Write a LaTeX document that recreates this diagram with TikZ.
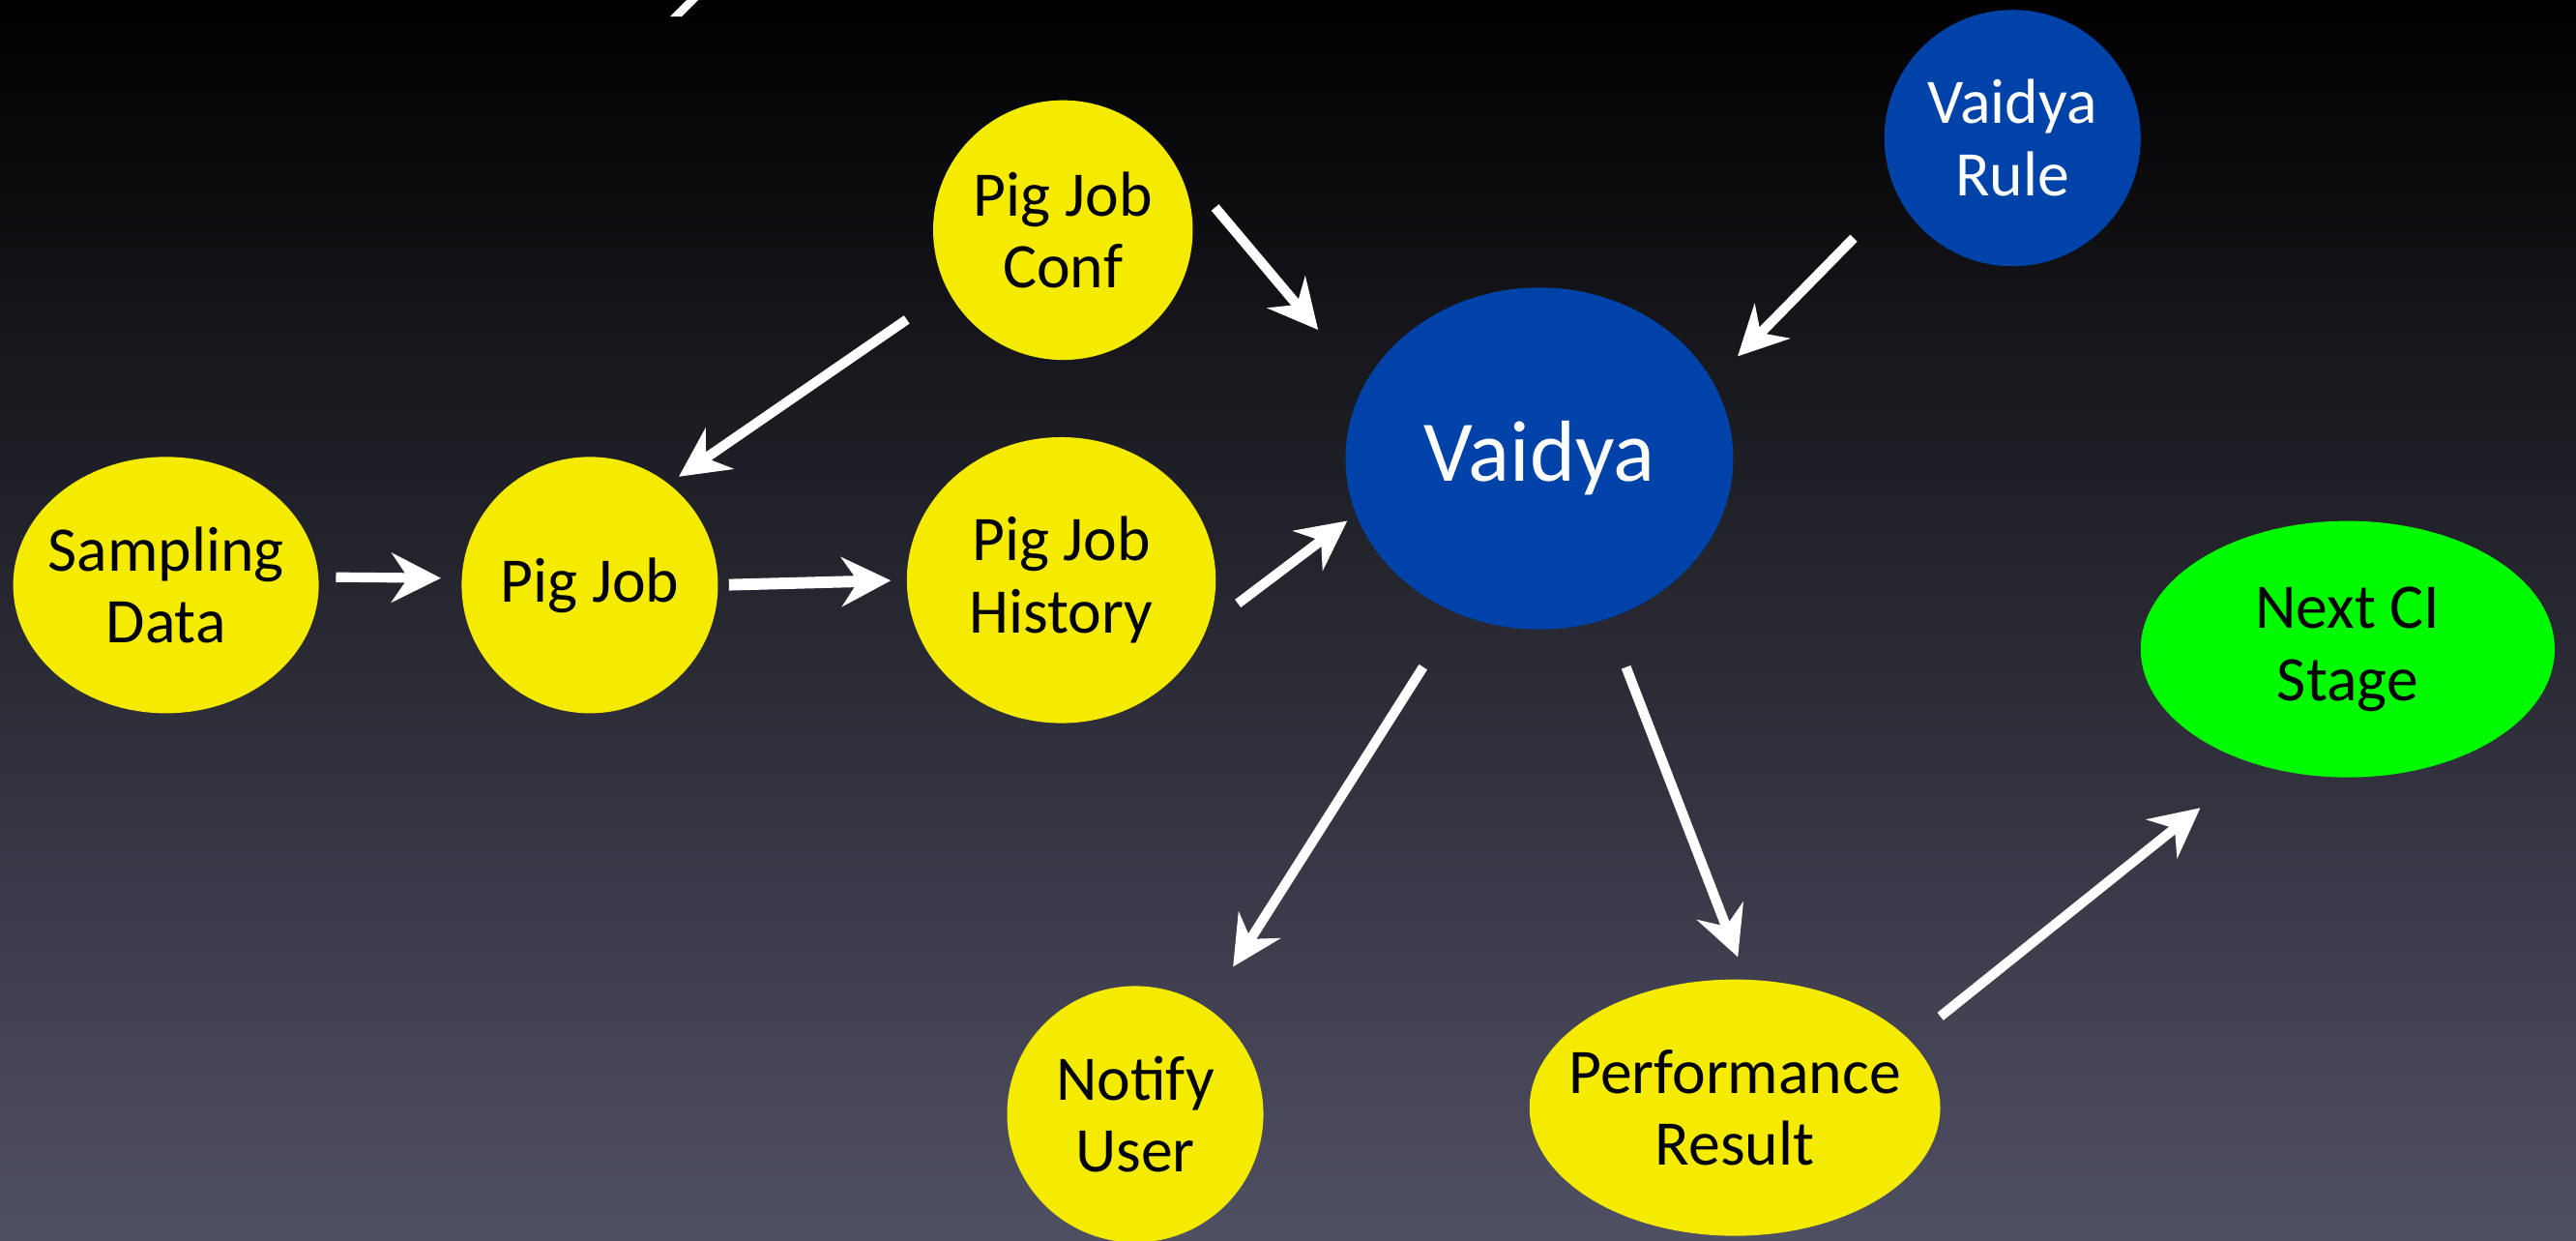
\documentclass[tikz,border=0pt]{standalone}
\usepackage{fontspec}
\setmainfont{Carlito}
\usetikzlibrary{shapes.geometric,arrows.meta}
\definecolor{pigyellow}{RGB}{245,235,0}
\definecolor{vaiblue}{RGB}{0,67,168}
\definecolor{cigreen}{RGB}{0,250,0}
\definecolor{bgmiddle}{RGB}{24,25,48}
\definecolor{bgbottom}{RGB}{80,80,100}

\begin{document}
\begin{tikzpicture}[
  bub/.style={ellipse,inner sep=-3mm,align=center,font=\fontsize{11}{12.5}\selectfont},
  yel/.style={bub,fill=pigyellow,text=black},
  blu/.style={bub,fill=vaiblue,text=white},
  arr/.style={white,line width=1.7pt,-{Stealth[length=3mm,width=3mm,inset=1mm]}}]
\shade[top color=black,middle color=bgmiddle,bottom color=bgbottom] (0,0) rectangle (15.68,-7.55);
\useasboundingbox (0,0) rectangle (15.68,-7.55);
% tail of the slide title
\fill[white] (4.08,-0.10) -- (4.15,-0.10) -- (4.25,0) -- (4.18,0) -- cycle;

\node[yel,minimum width=1.86cm,minimum height=1.56cm] (samp) at (1.01,-3.56) {Sampling\\Data};
\node[yel,minimum width=1.56cm,minimum height=1.56cm] (pig) at (3.59,-3.56) {Pig Job};
\node[yel,minimum width=1.88cm,minimum height=1.74cm] (hist) at (6.46,-3.53) {Pig Job\\History};
\node[yel,minimum width=1.58cm,minimum height=1.58cm] (conf) at (6.47,-1.40) {Pig Job\\Conf};
\node[blu,minimum width=2.36cm,minimum height=2.08cm,font=\fontsize{15}{18}\selectfont] (vai) at (9.37,-2.79) {Vaidya};
\node[blu,minimum width=1.56cm,minimum height=1.56cm] (rule) at (12.25,-0.84) {Vaidya\\Rule};
\node[bub,fill=cigreen,minimum width=2.52cm,minimum height=1.56cm] (next) at (14.29,-3.95) {Next CI\\Stage};
\node[yel,minimum width=1.56cm,minimum height=1.56cm] (notify) at (6.91,-6.78) {Notify\\User};
\node[yel,minimum width=2.50cm,minimum height=1.56cm] (perf) at (10.56,-6.74) {Performance\\Result};

\draw[arr,shorten <=1mm,shorten >=1.2mm] (samp.3) -- (pig.177);
\draw[arr,line width=2pt,shorten <=0.6mm,shorten >=0.9mm] (pig.east) -- (hist.west);
\draw[arr,shorten <=3mm,shorten >=0.7mm] (conf.208) -- (pig.52);
\draw[arr,shorten <=4.9mm,shorten >=4.3mm] (conf.40) -- (vai.157);
\draw[arr,shorten <=2.2mm,shorten >=0.6mm] (hist.-17) -- (vai.197);
\draw[arr,shorten <=3.7mm,shorten >=2.1mm] (rule.206) -- (vai.24);
\draw[arr,shorten <=3.8mm,shorten >=2.9mm] (vai.242) -- (notify.56);
\draw[arr,shorten <=3.1mm,shorten >=1.4mm] (vai.293) -- (perf.85);
\draw[arr,shorten <=2.3mm,shorten >=4.2mm] (perf.21) -- (next.231);
\end{tikzpicture}
\end{document}
